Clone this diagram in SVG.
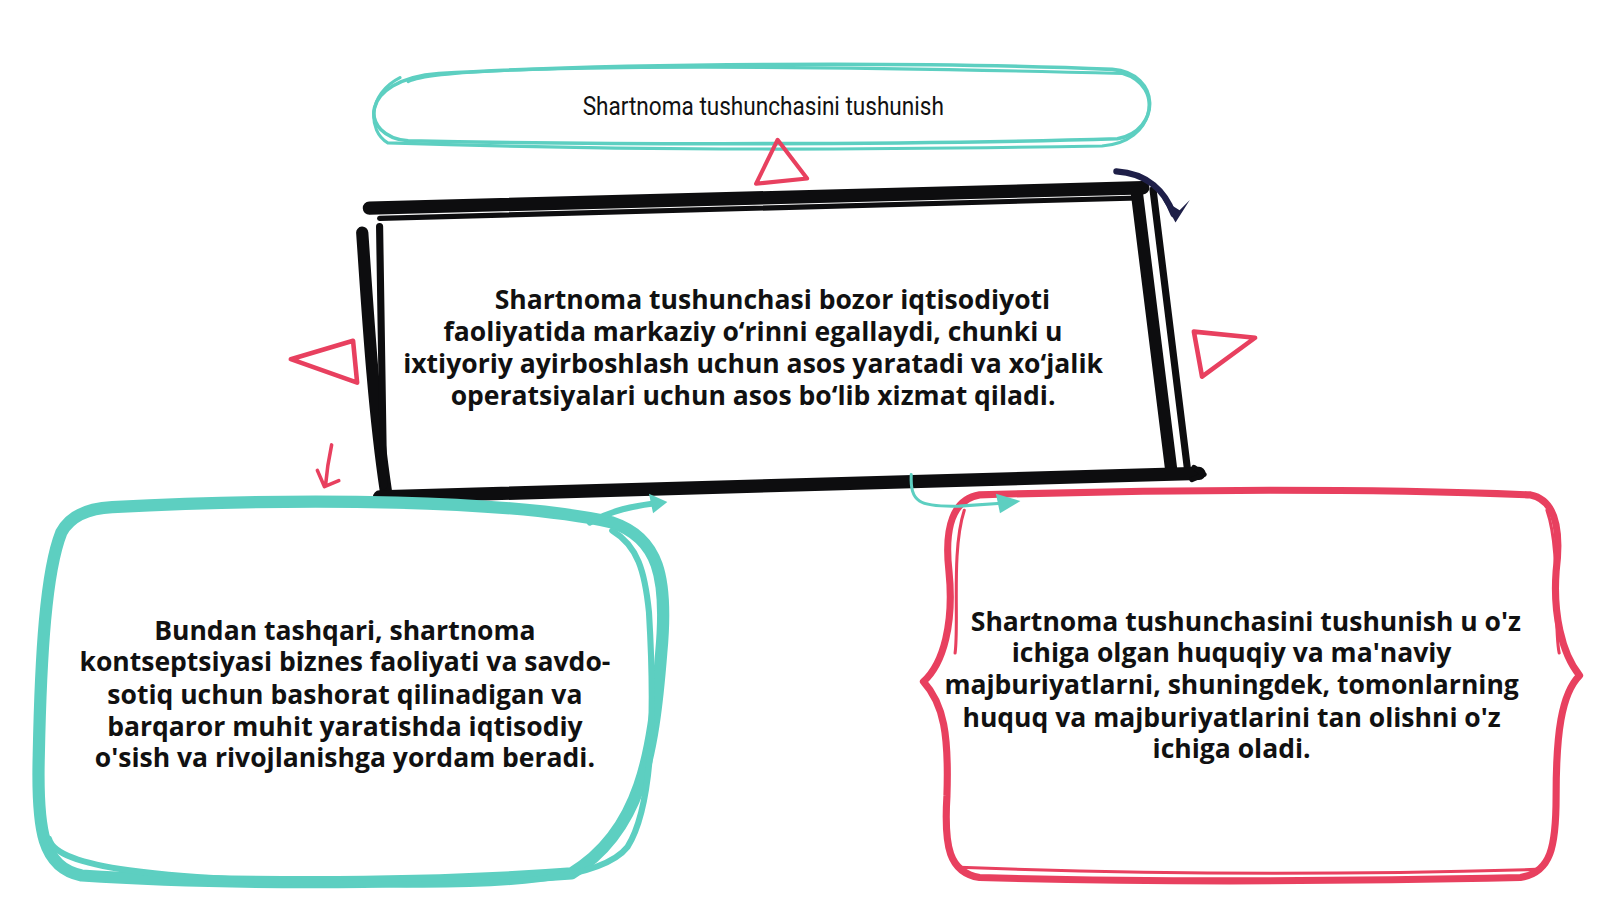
<svg xmlns="http://www.w3.org/2000/svg" width="1600" height="900" viewBox="0 0 1600 900">
<defs>
<style>
.teal{fill:none;stroke:#5dcfc1;stroke-linecap:round;stroke-linejoin:round}
.red{fill:none;stroke:#e8405f;stroke-linecap:round;stroke-linejoin:round}
.blk{fill:none;stroke:#0d0d0f;stroke-linecap:round;stroke-linejoin:round}
.body{font-family:"Open Sans","Liberation Sans",sans-serif;font-weight:700;font-size:26px;fill:#111;text-anchor:middle}
.title{font-family:Roboto,"Liberation Sans",sans-serif;font-size:25px;fill:#111;text-anchor:middle}
</style>
</defs>
<rect width="1600" height="900" fill="#ffffff"/>
<g transform="scale(1.0204)">
<g id="node-title">
<path class="teal" stroke-width="3.5" d="M430 72 C600 62 900 60 1090 68 C1138 72 1138 128 1095 136 C900 142 600 142 400 138 C352 134 350 78 430 72"/>
<path class="teal" stroke-width="3" d="M400 80 C430 64 700 62 1100 72 C1142 84 1132 140 1080 143 C800 148 600 147 380 140 C360 128 360 92 392 76"/>
<text class="title" x="748" y="113" textLength="354" lengthAdjust="spacingAndGlyphs">Shartnoma tushunchasini tushunish</text>
</g>
<g id="node-center">
<path class="blk" stroke-width="13" d="M362 204 L1120 184"/>
<path class="blk" stroke-width="5" d="M372 214 L1116 194"/>
<path class="blk" stroke-width="12" d="M355 228 C360 300 366 400 378 480"/>
<path class="blk" stroke-width="7" d="M372 222 L376 476"/>
<path class="blk" stroke-width="12" d="M1114 188 L1148 462"/>
<path class="blk" stroke-width="7" d="M1130 186 L1164 462"/>
<path class="blk" stroke-width="13" d="M372 487 L1175 464"/>
<path class="blk" stroke-width="5" d="M1170 458 L1180 465 L1168 470"/>
<text class="body" x="757" y="303">Shartnoma tushunchasi bozor iqtisodiyoti</text>
<text class="body" x="738" y="334">faoliyatida markaziy o‘rinni egallaydi, chunki u</text>
<text class="body" x="738" y="366">ixtiyoriy ayirboshlash uchun asos yaratadi va xo‘jalik</text>
<text class="body" x="738" y="397">operatsiyalari uchun asos bo‘lib xizmat qiladi.</text>
</g>
<g id="node-left">
<path class="teal" stroke-width="12" d="M110 497 C300 487 500 490 600 512 C645 527 655 565 648 640 C640 740 628 815 560 856 C400 868 200 866 80 858 C42 850 36 815 38 740 C40 640 45 560 60 522 C70 503 90 498 110 497 Z"/>
<path class="teal" stroke-width="6" d="M48 822 C55 850 150 862 350 866 C500 870 590 862 615 830 C640 790 642 700 636 600 C632 560 625 535 600 520"/>
<text class="body" x="338" y="627">Bundan tashqari, shartnoma</text>
<text class="body" x="338" y="658">kontseptsiyasi biznes faoliyati va savdo-</text>
<text class="body" x="338" y="690">sotiq uchun bashorat qilinadigan va</text>
<text class="body" x="338" y="721">barqaror muhit yaratishda iqtisodiy</text>
<text class="body" x="338" y="752">o'sish va rivojlanishga yordam beradi.</text>
</g>
<g id="node-right">
<path class="red" stroke-width="7" d="M960 485 C1150 479 1350 479 1500 485 C1525 490 1530 520 1525 560 C1522 600 1530 640 1548 662 C1530 680 1525 720 1525 780 C1525 830 1520 855 1490 860 C1300 864 1100 864 960 860 C930 855 925 830 928 780 C930 720 925 690 905 668 C925 650 935 610 930 560 C925 515 935 489 960 485 Z"/>
<path class="red" stroke-width="3" d="M945 500 C932 540 940 610 936 640 M1516 500 C1530 540 1522 610 1528 640 M940 850 C1100 856 1300 858 1505 852"/>
<text class="body" x="1221" y="618">Shartnoma tushunchasini tushunish u o'z</text>
<text class="body" x="1207" y="649">ichiga olgan huquqiy va ma'naviy</text>
<text class="body" x="1207" y="680">majburiyatlarni, shuningdek, tomonlarning</text>
<text class="body" x="1207" y="712">huquq va majburiyatlarini tan olishni o'z</text>
<text class="body" x="1207" y="743">ichiga oladi.</text>
</g>
<g id="connectors">
<path class="red" stroke-width="4" d="M762 137 L741 180 L791 175 Z"/>
<path class="red" stroke-width="4.5" d="M285 352 L346 334 L350 375 Z"/>
<path class="red" stroke-width="4.5" d="M1170 325 L1230 331 L1178 369 Z"/>
<path class="red" stroke-width="3.5" d="M325 436 C322 450 320 464 319 476 M311 461 L318 477 L332 471"/>
<path fill="none" stroke="#1e1f48" stroke-width="6" stroke-linecap="round" d="M1094 168 C1125 170 1142 188 1150 210"/>
<path fill="#1e1f48" d="M1140 196 L1152 218 L1166 196 L1156 206 Z"/>
<path class="teal" stroke-width="6" d="M578 512 C600 500 620 496 644 493"/>
<path fill="#5dcfc1" d="M636 484 L654 492 L640 503 Z"/>
<path class="teal" stroke-width="3" d="M893 465 C892 492 900 497 940 496 L985 493"/>
<path fill="#5dcfc1" d="M976 484 L1000 491 L980 503 Z"/>
</g>
</g>
</svg>
